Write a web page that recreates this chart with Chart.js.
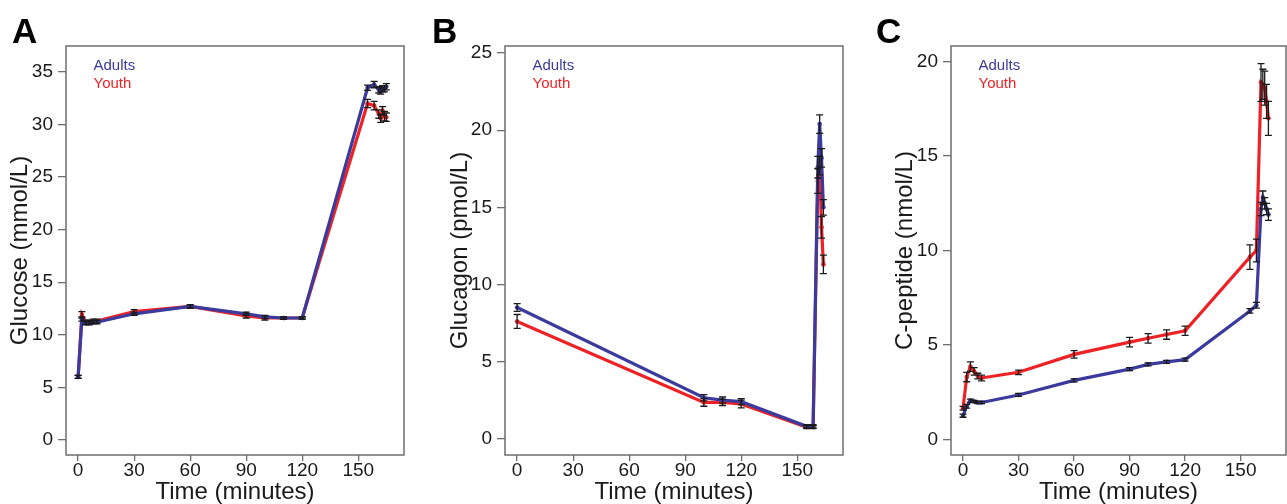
<!DOCTYPE html>
<html><head><meta charset="utf-8">
<script src="https://cdn.jsdelivr.net/npm/chart.js@4.4.0/dist/chart.umd.min.js"></script>
<style>
html,body{margin:0;padding:0;background:#fff;overflow:hidden;width:1287px;height:504px;}
canvas{position:absolute;top:0;}
</style></head><body>
<canvas id="cA" width="430" height="504" style="left:0px"></canvas>
<canvas id="cB" width="440" height="504" style="left:430px"></canvas>
<canvas id="cC" width="420" height="504" style="left:870px"></canvas>
<script>
// ---------- data ----------
const seriesNames = ['Adults', 'Youth'];
const seriesColors = ['#3b3b9e', '#ee2225'];
const panelLetters = ['A', 'B', 'C'];
const xTickValues = [0, 30, 60, 90, 120, 150];
const xTitle = 'Time (minutes)';

const glucoseTitle = 'Glucose (mmol/L)';
const glucoseTime = [0, 2, 4, 6, 8, 10, 30, 60, 90, 100, 110, 120, 155, 158.5, 161, 162, 163, 164, 165];
const glucoseAdults = [6.0, 11.5, 11.1, 11.1, 11.2, 11.2, 12.0, 12.7, 12.0, 11.7, 11.6, 11.6, 33.5, 33.8, 33.3, 33.2, 33.4, 33.4, 33.6];
const glucoseAdultsErr = [0.15, 0.2, 0.15, 0.15, 0.15, 0.15, 0.15, 0.15, 0.15, 0.15, 0.1, 0.1, 0.25, 0.3, 0.3, 0.3, 0.3, 0.3, 0.3];
const glucoseYouth = [6.0, 11.9, 11.2, 11.2, 11.3, 11.3, 12.2, 12.7, 11.8, 11.6, 11.6, 11.6, 32.0, 31.8, 31.0, 30.6, 31.3, 30.8, 30.7];
const glucoseYouthErr = [0.15, 0.3, 0.2, 0.2, 0.2, 0.2, 0.2, 0.15, 0.2, 0.2, 0.1, 0.1, 0.4, 0.4, 0.4, 0.4, 0.4, 0.45, 0.4];
const glucoseYTicks = [0, 5, 10, 15, 20, 25, 30, 35];

const glucagonTitle = 'Glucagon (pmol/L)';
const glucagonTime = [0, 100, 110, 120, 155, 158.5, 161, 162, 163, 164];
const glucagonAdults = [8.5, 2.65, 2.5, 2.4, 0.8, 0.8, 17.6, 20.4, 18.2, 15.0];
const glucagonAdultsErr = [0.25, 0.2, 0.2, 0.2, 0.1, 0.1, 0.7, 0.6, 0.6, 0.5];
const glucagonYouth = [7.6, 2.35, 2.35, 2.25, 0.75, 0.75, 16.7, 17.7, 13.7, 11.3];
const glucagonYouthErr = [0.45, 0.25, 0.2, 0.25, 0.1, 0.1, 0.8, 0.6, 0.7, 0.6];
const glucagonYTicks = [0, 5, 10, 15, 20, 25];

const cpeptideTitle = 'C-peptide (nmol/L)';
const cpeptideTime = [0, 2, 4, 6, 8, 10, 30, 60, 90, 100, 110, 120, 155, 158.5, 161, 162, 163, 164, 165];
const cpeptideAdults = [1.25, 1.75, 2.05, 2.0, 1.95, 1.95, 2.35, 3.12, 3.72, 3.97, 4.1, 4.22, 6.8, 7.1, 12.2, 12.8, 12.5, 12.2, 11.9];
const cpeptideAdultsErr = [0.08, 0.1, 0.08, 0.06, 0.06, 0.06, 0.08, 0.08, 0.08, 0.08, 0.08, 0.08, 0.12, 0.15, 0.35, 0.35, 0.3, 0.3, 0.3];
const cpeptideYouth = [1.65, 3.3, 3.85, 3.6, 3.35, 3.25, 3.55, 4.5, 5.15, 5.35, 5.55, 5.75, 9.65, 10.0, 18.9, 18.8, 18.6, 17.9, 17.0];
const cpeptideYouthErr = [0.1, 0.25, 0.25, 0.2, 0.15, 0.15, 0.12, 0.2, 0.25, 0.25, 0.25, 0.25, 0.65, 0.6, 1.0, 0.8, 0.9, 0.9, 0.9];
const cpeptideYTicks = [0, 5, 10, 15, 20];

// ---------- drawing ----------
const FONT = '"Liberation Sans", Arial, Helvetica, sans-serif';

const decoPlugin = {
  id: 'deco',
  afterDatasetsDraw(chart, args, o) {
    const ctx = chart.ctx;
    const ys = chart.scales.y;
    ctx.save();
    ctx.strokeStyle = '#1a1a1a';
    ctx.lineWidth = 1.3;
    chart.data.datasets.forEach((ds, di) => {
      const meta = chart.getDatasetMeta(di);
      const errs = o.errs[di];
      meta.data.forEach((pt, i) => {
        const v = ds.data[i].y, e = errs[i];
        if (v == null || e == null) return;
        const x = pt.x, y1 = ys.getPixelForValue(v + e), y2 = ys.getPixelForValue(v - e);
        ctx.beginPath();
        ctx.moveTo(x, y1); ctx.lineTo(x, y2);
        ctx.moveTo(x - 3.5, y1); ctx.lineTo(x + 3.5, y1);
        ctx.moveTo(x - 3.5, y2); ctx.lineTo(x + 3.5, y2);
        ctx.stroke();
      });
    });
    ctx.restore();
  },
  afterDraw(chart, args, o) {
    const ctx = chart.ctx;
    const a = chart.chartArea;
    ctx.save();
    ctx.strokeStyle = '#6e6e6e';
    ctx.lineWidth = 1.5;
    ctx.strokeRect(a.left, a.top, a.right - a.left, a.bottom - a.top);
    // legend text
    ctx.font = '15px ' + FONT;
    ctx.textBaseline = 'middle';
    ctx.textAlign = 'left';
    seriesNames.forEach((n, i) => {
      ctx.fillStyle = seriesColors[i];
      ctx.fillText(n, a.left + 27.5, a.top + 20 + i * 18.3);
    });
    // panel letter
    ctx.fillStyle = '#000';
    ctx.font = 'bold 35px ' + FONT;
    ctx.textBaseline = 'alphabetic';
    ctx.fillText(o.letter, o.letterX, 43);
    ctx.restore();
  }
};

function makePanel(id, cfg) {
  const datasets = [cfg.adults, cfg.youth].map((vals, si) => ({
    label: seriesNames[si],
    data: cfg.time.map((t, i) => ({ x: t, y: vals[i] })),
    borderColor: seriesColors[si],
    backgroundColor: seriesColors[si],
    pointBackgroundColor: seriesColors[si],
    pointBorderColor: seriesColors[si],
    borderWidth: 3.2,
    pointRadius: 2.3,
    pointBorderWidth: 0,
    tension: 0,
    spanGaps: true
  }));
  const canvas = document.getElementById(id);
  return new Chart(canvas, {
    type: 'line',
    data: { datasets },
    plugins: [decoPlugin],
    options: {
      responsive: false,
      maintainAspectRatio: false,
      animation: false,
      devicePixelRatio: 1,
      layout: { padding: { top: 46, left: 0, bottom: 0, right: cfg.padRight } },
      plugins: {
        legend: { display: false },
        tooltip: { enabled: false },
        deco: { errs: [cfg.adultsErr, cfg.youthErr], letter: cfg.letter, letterX: cfg.letterX }
      },
      scales: {
        x: {
          type: 'linear',
          min: -6.5, max: 174.5,
          afterBuildTicks: s => { s.ticks = xTickValues.map(v => ({ value: v })); },
          afterFit: s => { s.height = 49; },
          border: { display: false },
          grid: { display: true, drawOnChartArea: false, drawTicks: true, tickLength: 6, color: '#6e6e6e', lineWidth: 1.3 },
          ticks: { font: { size: 19, family: FONT }, color: '#1a1a1a', padding: -2, maxRotation: 0, autoSkip: false },
          title: { display: true, text: xTitle, font: { size: 24, family: FONT, lineHeight: 1.2 }, color: '#1a1a1a', padding: { top: 0, bottom: -3 } }
        },
        y: {
          type: 'linear',
          min: cfg.ymin, max: cfg.ymax,
          afterBuildTicks: s => { s.ticks = cfg.yticks.map(v => ({ value: v })); },
          afterFit: s => { s.width = cfg.axisW; },
          border: { display: false },
          grid: { display: true, drawOnChartArea: false, drawTicks: true, tickLength: 8, color: '#6e6e6e', lineWidth: 1.3 },
          ticks: { font: { size: 19, family: FONT }, color: '#1a1a1a', padding: 5, autoSkip: false },
          title: { display: true, text: cfg.ytitle, font: { size: 24, family: FONT, lineHeight: 1.2 }, color: '#1a1a1a', padding: { top: cfg.titlePad, bottom: 0 } }
        }
      }
    }
  });
}

makePanel('cA', {
  time: glucoseTime, adults: glucoseAdults, youth: glucoseYouth,
  adultsErr: glucoseAdultsErr, youthErr: glucoseYouthErr,
  yticks: glucoseYTicks, ytitle: glucoseTitle, ymin: -1.43, ymax: 37.47,
  axisW: 66, padRight: 26, titlePad: 6, letter: panelLetters[0], letterX: 12
});
makePanel('cB', {
  time: glucagonTime, adults: glucagonAdults, youth: glucagonYouth,
  adultsErr: glucagonAdultsErr, youthErr: glucagonYouthErr,
  yticks: glucagonYTicks, ytitle: glucagonTitle, ymin: -1.06, ymax: 25.46,
  axisW: 75, padRight: 27, titlePad: 16, letter: panelLetters[1], letterX: 2
});
makePanel('cC', {
  time: cpeptideTime, adults: cpeptideAdults, youth: cpeptideYouth,
  adultsErr: cpeptideAdultsErr, youthErr: cpeptideYouthErr,
  yticks: cpeptideYTicks, ytitle: cpeptideTitle, ymin: -0.83, ymax: 20.83,
  axisW: 81, padRight: 1, titlePad: 21, letter: panelLetters[2], letterX: 6
});
</script>
</body></html>
